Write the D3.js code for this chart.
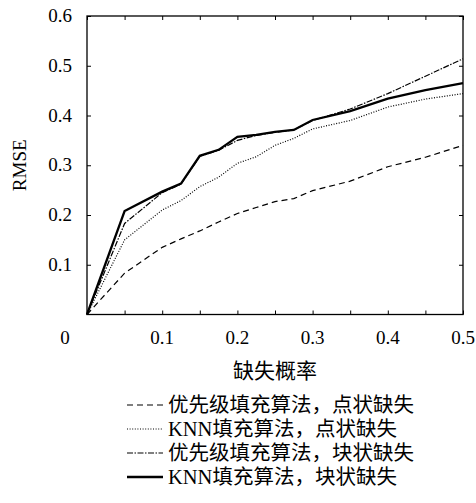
<!DOCTYPE html>
<html>
<head>
<meta charset="utf-8">
<script src="https://cdn.jsdelivr.net/npm/d3@7"></script>
<style>
  body { margin: 0; background: #fff; }
  text { font-family: "Liberation Serif", "Noto Sans CJK SC", serif; fill: #000; }
</style>
</head>
<body>
<script>
const rates = [0, 0.05, 0.1, 0.125, 0.15, 0.175, 0.2, 0.225, 0.25, 0.275, 0.3, 0.35, 0.4, 0.45, 0.5];
const priorityPoint = [0, 0.083, 0.135, 0.152, 0.168, 0.186, 0.203, 0.215, 0.227, 0.233, 0.249, 0.268, 0.297, 0.316, 0.340];
const knnPoint      = [0, 0.150, 0.210, 0.229, 0.257, 0.276, 0.304, 0.317, 0.340, 0.354, 0.373, 0.390, 0.417, 0.433, 0.444];
const priorityBlock = [0, 0.183, 0.245, 0.262, 0.318, 0.330, 0.350, 0.360, 0.366, 0.371, 0.390, 0.413, 0.444, 0.479, 0.514];
const knnBlock      = [0, 0.208, 0.247, 0.263, 0.319, 0.331, 0.357, 0.361, 0.367, 0.371, 0.391, 0.409, 0.434, 0.451, 0.465];

const xTicks = [0.1, 0.2, 0.3, 0.4, 0.5];
const yTicks = [0.1, 0.2, 0.3, 0.4, 0.5, 0.6];
const legendNames = ['优先级填充算法，点状缺失', 'KNN填充算法，点状缺失', '优先级填充算法，块状缺失', 'KNN填充算法，块状缺失'];

const series = [
  {values: priorityPoint, dash: '6,4', width: 1.2},
  {values: knnPoint, dash: '1,1.6', width: 1.2},
  {values: priorityBlock, dash: '6,1.5,1.5,1.5', width: 1.2},
  {values: knnBlock, dash: null, width: 2.3}
];

const width = 476, height = 503;
const plotLeft = 87, plotRight = 463, plotTop = 16, plotBottom = 314.5;

const svg = d3.select('body').append('svg')
  .attr('width', width)
  .attr('height', height);

const x = d3.scaleLinear().domain([0, 0.5]).range([plotLeft, plotRight]);
const y = d3.scaleLinear().domain([0, 0.6]).range([plotBottom, plotTop]);

// frame ticks, pointing inward on all four sides
svg.append('g')
  .attr('transform', `translate(0,${plotBottom})`)
  .call(d3.axisTop(x).tickValues(d3.range(0, 0.501, 0.05)).tickSize(4).tickFormat(''))
  .call(g => g.select('.domain').remove());
svg.append('g')
  .attr('transform', `translate(0,${plotTop})`)
  .call(d3.axisBottom(x).tickValues(d3.range(0, 0.501, 0.05)).tickSize(4).tickFormat(''))
  .call(g => g.select('.domain').remove());
svg.append('g')
  .attr('transform', `translate(${plotLeft},0)`)
  .call(d3.axisRight(y).tickValues(yTicks).tickSize(4).tickFormat(''))
  .call(g => g.select('.domain').remove());
svg.append('g')
  .attr('transform', `translate(${plotRight},0)`)
  .call(d3.axisLeft(y).tickValues(yTicks).tickSize(4).tickFormat(''))
  .call(g => g.select('.domain').remove());

svg.selectAll('.tick line').attr('stroke', '#000').attr('stroke-width', 1);

svg.append('rect')
  .attr('x', plotLeft).attr('y', plotTop)
  .attr('width', plotRight - plotLeft).attr('height', plotBottom - plotTop)
  .attr('fill', 'none').attr('stroke', '#000').attr('stroke-width', 1.3);

// tick labels
svg.append('g').selectAll('text')
  .data(xTicks).enter().append('text')
  .attr('x', d => x(d))
  .attr('y', 344)
  .attr('text-anchor', 'middle')
  .style('font-size', '19px')
  .text(d => d3.format('.1f')(d));

svg.append('text')
  .attr('x', 65).attr('y', 344)
  .attr('text-anchor', 'middle')
  .style('font-size', '19px')
  .text('0');

svg.append('g').selectAll('text')
  .data(yTicks).enter().append('text')
  .attr('x', 72)
  .attr('y', d => y(d) + 6)
  .attr('text-anchor', 'end')
  .style('font-size', '19px')
  .text(d => d3.format('.1f')(d));

// axis titles
svg.append('text')
  .attr('x', 275).attr('y', 378)
  .attr('text-anchor', 'middle')
  .style('font-size', '21px')
  .text('缺失概率');

svg.append('text')
  .attr('transform', `translate(26,${(plotTop + plotBottom) / 2}) rotate(-90)`)
  .attr('text-anchor', 'middle')
  .style('font-size', '19px')
  .text('RMSE');

// lines
const line = d3.line()
  .x((d, i) => x(rates[i]))
  .y(d => y(d));

svg.append('g').selectAll('path')
  .data(series).enter().append('path')
  .attr('d', d => line(d.values))
  .attr('fill', 'none')
  .attr('stroke', '#000')
  .attr('stroke-width', d => d.width)
  .attr('stroke-dasharray', d => d.dash);

// legend
const legend = svg.append('g').selectAll('g')
  .data(series).enter().append('g')
  .attr('transform', (d, i) => `translate(127,${405 + i * 24})`);

legend.append('line')
  .attr('x1', 0).attr('x2', 36)
  .attr('stroke', '#000')
  .attr('stroke-width', d => d.width)
  .attr('stroke-dasharray', d => d.dash);

legend.append('text')
  .attr('x', 41)
  .attr('y', 7)
  .style('font-size', '20.5px')
  .text((d, i) => legendNames[i]);
</script>
</body>
</html>
